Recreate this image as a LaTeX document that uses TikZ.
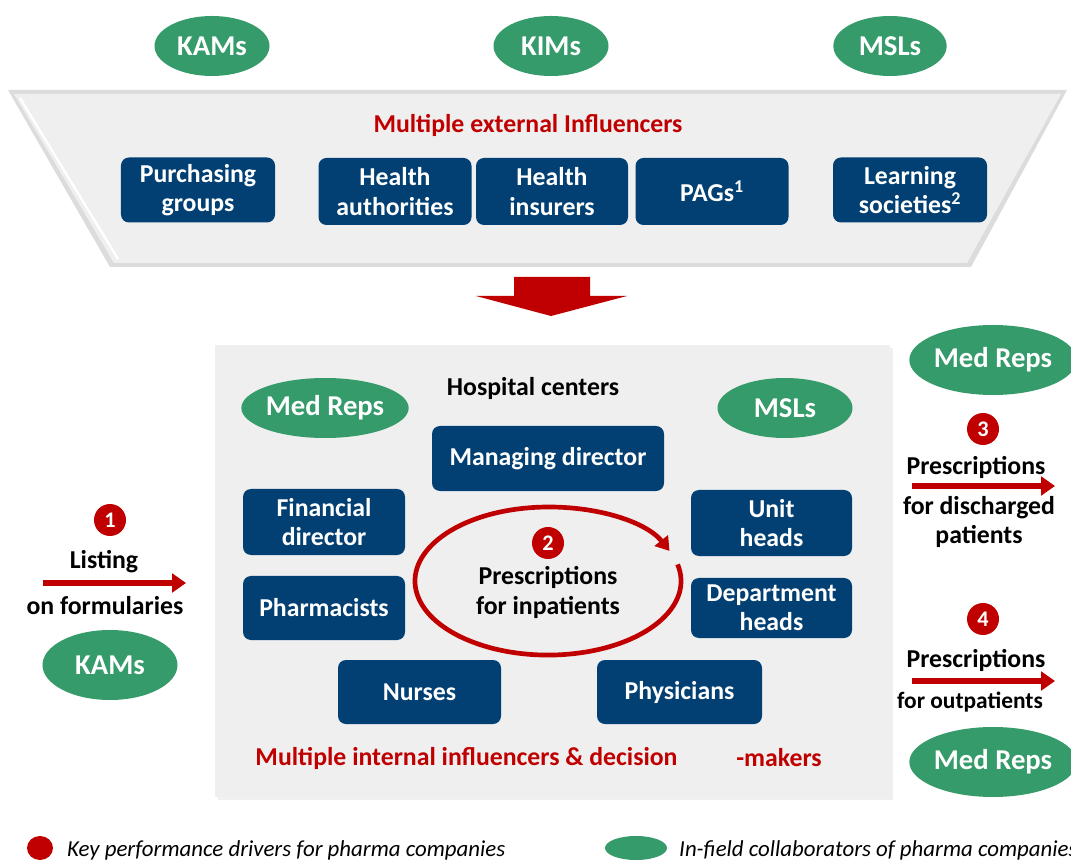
\documentclass[tikz,border=0pt]{standalone}
\usepackage{fontspec}
\setmainfont{Carlito}
\usetikzlibrary{arrows.meta,shapes.geometric}
\definecolor{pharmared}{HTML}{C00000}
\definecolor{fieldgreen}{HTML}{359B6A}
\definecolor{orgblue}{HTML}{023F72}
\definecolor{panelgray}{HTML}{EFEFEF}
\definecolor{paneledge}{HTML}{DCDCDC}

\begin{document}
\begin{tikzpicture}[x=0.03cm,y=0.03cm,
  orgbox/.style={fill=orgblue,rounded corners=0.24cm,text=white,font=\fontsize{22}{25}\selectfont\bfseries,align=center,minimum width=4.6cm,minimum height=1.98cm,inner sep=0pt},
  fieldrep/.style={ellipse,fill=fieldgreen,text=white,font=\fontsize{24.5}{28}\selectfont\bfseries,inner sep=0pt},
  kpd/.style={circle,fill=pharmared,text=white,font=\fontsize{19}{22}\selectfont\bfseries,minimum size=0.96cm,inner sep=0pt},
  lbl/.style={font=\fontsize{22}{25.5}\selectfont\bfseries,align=center,inner sep=0pt},
  flow/.style={line width=5pt,draw=pharmared,-{Triangle[length=0.42cm,width=0.56cm]}}]
  \useasboundingbox (0,0) rectangle (1071,862);

  % external influencers funnel
  \fill[paneledge] (8,772) -- (1067,772) -- (971,595) -- (110,595) -- cycle;
  \fill[panelgray] (14,768) -- (1061,768) -- (967,599) -- (114,599) -- cycle;
  \draw[white,line width=2pt] (20,764) -- (118,603);
  \node[fieldrep,minimum width=3.45cm,minimum height=1.8cm] (kamtop) at (212,816) {KAMs};
  \node[fieldrep,minimum width=3.45cm,minimum height=1.8cm] (kimtop) at (551,816) {KIMs};
  \node[fieldrep,minimum width=3.4cm,minimum height=1.8cm] (msltop) at (890,816) {MSLs};
  \node[lbl,text=pharmared] (exttitle) at (528,737) {Multiple external Influencers};
  \node[orgbox,minimum width=4.62cm,minimum height=1.95cm] (purch) at (198,672) {Purchasing\\groups};
  \node[orgbox,minimum width=4.59cm,minimum height=2.01cm] (hauth) at (395,670.5) {Health\\authorities};
  \node[orgbox,minimum width=4.56cm,minimum height=2.01cm] (hins) at (552,670.5) {Health\\insurers};
  \node[orgbox,minimum width=4.59cm,minimum height=2.01cm] (pags) at (712,670.5) {PAGs\textsuperscript{1}};
  \node[orgbox,minimum width=4.62cm,minimum height=1.95cm] (learn) at (910,672) {Learning\\societies\textsuperscript{2}};

  % funnel arrow
  \fill[pharmared] (514,585) -- (590,585) -- (590,566) -- (627,566) -- (551,546) -- (476,566) -- (514,566) -- cycle;

  % hospital
  \fill[gray!12] (218,62) rectangle (893,514);
  \fill[panelgray] (215,65) rectangle (890,517);
  \node[lbl] (hosp) at (533,474) {Hospital centers};
  \node[fieldrep,minimum width=4.8cm,minimum height=1.8cm] (medrepin) at (325,454) {Med Reps};
  \node[fieldrep,minimum width=4.05cm,minimum height=1.8cm] (mslin) at (785,454) {MSLs};
  \node[orgbox,minimum width=6.96cm,minimum height=1.95cm] (mdir) at (548,403.5) {Managing director};
  \node[orgbox,minimum width=4.86cm,minimum height=1.98cm] (fdir) at (324,340) {Financial\\director};
  \node[orgbox,minimum width=4.83cm,minimum height=1.98cm] (unit) at (771.5,339) {Unit\\heads};
  \node[orgbox,minimum width=4.86cm,minimum height=1.92cm] (pharm) at (324,254) {Pharmacists};
  \node[orgbox,minimum width=4.83cm,minimum height=1.8cm] (dept) at (771.5,254) {Department\\heads};
  \node[orgbox,minimum width=4.89cm,minimum height=1.92cm] (nurse) at (419.5,170) {Nurses};
  \node[orgbox,minimum width=4.95cm,minimum height=1.92cm] (phys) at (679.5,170) {Physicians};
  \draw[line width=4pt,pharmared,-{Triangle[length=0.4cm,width=0.5cm]}] (677.6,297.6)
    arc[start angle=13,end angle=-336,x radius=3.99cm,y radius=2.22cm];
  \node[kpd] (k2) at (548,319) {2};
  \node[lbl] (inpat) at (548,269.5) {Prescriptions\\for inpatients};
  \node[lbl,text=pharmared] (inttitle) at (466.5,104) {Multiple internal influencers \& decision};
  \node[lbl,text=pharmared] (inttail) at (779,104) {-makers};

  % listing
  \node[kpd] (k1) at (110,342) {1};
  \node[lbl] (listing) at (104,300) {Listing};
  \coordinate (lista) at (43,279);
  \coordinate (listb) at (186,279);
  \draw[flow] (lista) -- (listb);
  \node[lbl] (formul) at (105,256) {on formularies};
  \node[fieldrep,minimum width=4.05cm,minimum height=2.1cm] (kamleft) at (110,197) {KAMs};

  % discharged / outpatients
  \node[fieldrep,minimum width=4.7cm,minimum height=2.1cm] (medrepup) at (993,502) {Med Reps};
  \node[kpd] (k3) at (983,433) {3};
  \node[lbl] (presc3) at (976,395) {Prescriptions};
  \coordinate (disa) at (912,376);
  \coordinate (disb) at (1055,376);
  \draw[flow] (disa) -- (disb);
  \node[lbl] (dischg) at (979,340) {for discharged\\patients};
  \node[kpd] (k4) at (983,243) {4};
  \node[lbl] (presc4) at (976,202) {Prescriptions};
  \coordinate (outa) at (912,181);
  \coordinate (outb) at (1055,181);
  \draw[flow] (outa) -- (outb);
  \node[lbl,font=\fontsize{20}{23}\selectfont\bfseries] (outpat) at (970,160) {for outpatients};
  \node[fieldrep,minimum width=4.7cm,minimum height=2.1cm] (medrepdn) at (993,100) {Med Reps};

  % legend
  \node[ellipse,fill=pharmared,minimum width=0.78cm,minimum height=0.72cm,inner sep=0pt] (legred) at (40,14) {};
  \node[anchor=west,inner sep=0pt,font=\fontsize{19.5}{23}\selectfont\itshape] (legredtxt) at (67,12) {Key performance drivers for pharma companies};
  \node[ellipse,fill=fieldgreen,minimum width=1.86cm,minimum height=0.72cm,inner sep=0pt] (leggreen) at (636,14) {};
  \node[anchor=west,inner sep=0pt,font=\fontsize{19.5}{23}\selectfont\itshape] (leggreentxt) at (679,12) {In-field collaborators of pharma companies};
\end{tikzpicture}
\end{document}
